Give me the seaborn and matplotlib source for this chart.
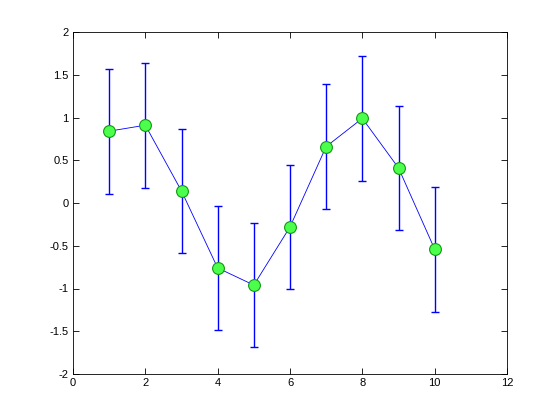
import matplotlib
matplotlib.use("Agg")
import matplotlib.pyplot as plt
import seaborn as sns
import pandas as pd

x_vals = [1, 2, 3, 4, 5, 6, 7, 8, 9, 10]
y_vals = [0.84, 0.91, 0.14, -0.76, -0.96, -0.28, 0.66, 0.99, 0.41, -0.54]
y_err = [0.73, 0.73, 0.73, 0.73, 0.73, 0.73, 0.73, 0.73, 0.73, 0.73]
x_ticks = [0, 2, 4, 6, 8, 10, 12]
y_ticks = [-2, -1.5, -1, -0.5, 0, 0.5, 1, 1.5, 2]
y_labels = ["-2", "-1.5", "-1", "-0.5", "0", "0.5", "1", "1.5", "2"]

df = pd.DataFrame({"x": x_vals, "y": y_vals, "err": y_err})

sns.set_style("ticks")
plt.rcParams["font.family"] = ["Liberation Sans", "DejaVu Sans"]

fig = plt.figure(figsize=(5.6, 4.2), dpi=100)
ax = fig.add_axes([73 / 560, 46 / 420, 434 / 560, 342 / 420])

ax.errorbar(df["x"], df["y"], yerr=df["err"], fmt="none", ecolor="#0000ff",
            elinewidth=1.0, capsize=3, capthick=1.0, zorder=2)
sns.lineplot(data=df, x="x", y="y", ax=ax, color="#0000ff", linewidth=0.6,
             marker="o", markersize=8.5, markerfacecolor="#4cff4c",
             markeredgecolor="#119911", markeredgewidth=0.8, zorder=3)

ax.set_xlim(0, 12)
ax.set_ylim(-2, 2)
ax.set_xticks(x_ticks)
ax.set_yticks(y_ticks)
ax.set_yticklabels(y_labels)
ax.set_xlabel("")
ax.set_ylabel("")
ax.tick_params(direction="in", top=True, right=True, length=4, width=0.6,
               labelsize=8, colors="black", pad=3)
for s in ax.spines.values():
    s.set_visible(True)
    s.set_linewidth(0.6)
    s.set_color("black")

fig.savefig("out.png", dpi=100)
